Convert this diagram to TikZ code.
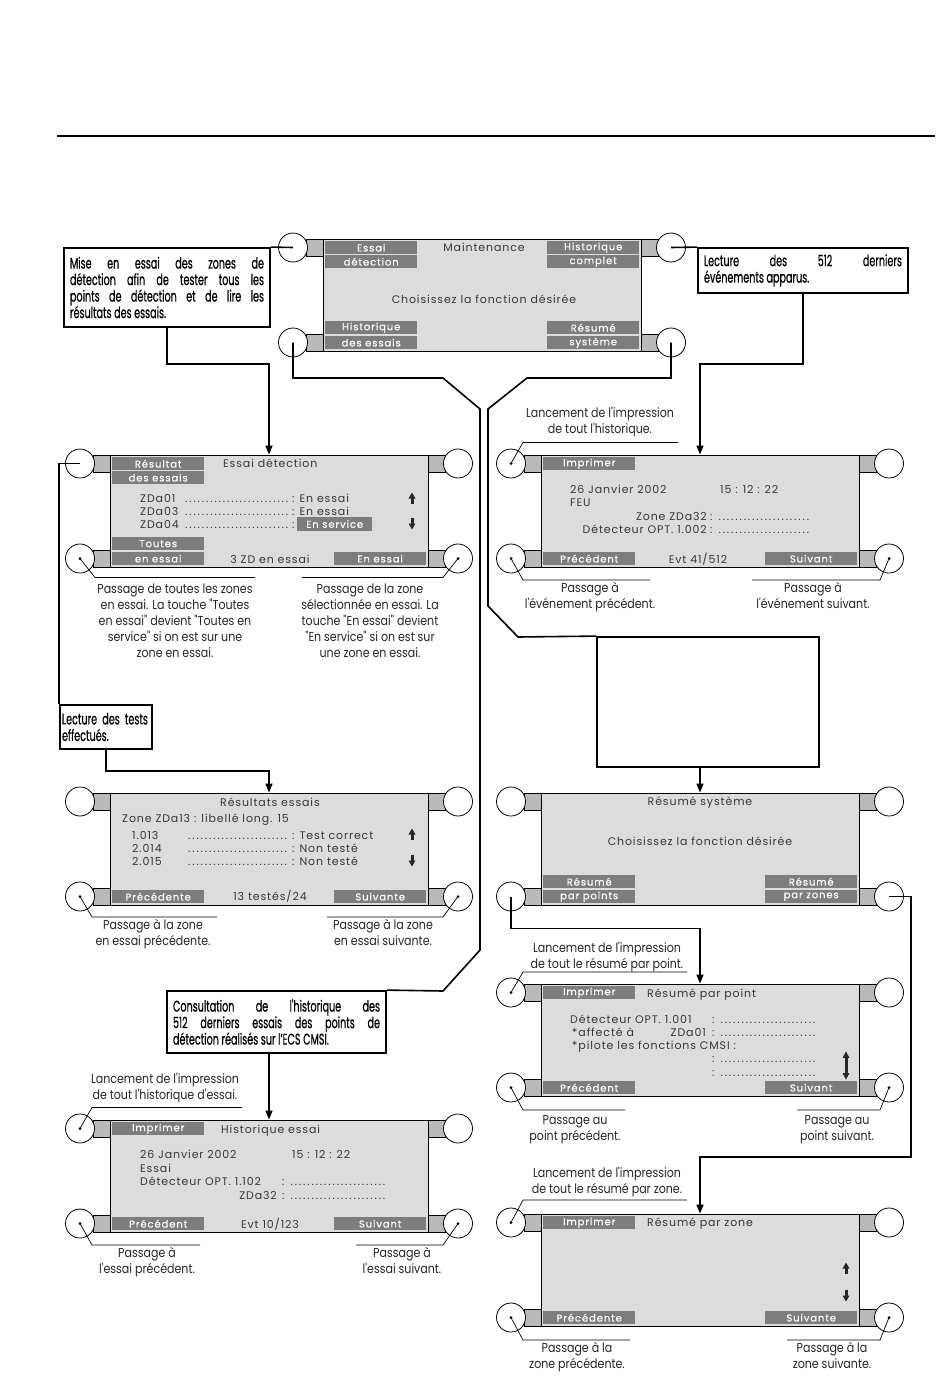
\documentclass[tikz,border=0pt]{standalone}
\usepackage{fontspec}
\usetikzlibrary{arrows.meta}
\setmainfont{Poppins}
\newfontfamily\lcdfont[LetterSpace=8]{Poppins}
\newfontfamily\keyfont[LetterSpace=9,FakeBold=0.4]{Poppins}
\newfontfamily\notefont[FakeStretch=0.85]{Poppins}
\newfontfamily\boxfont[FakeStretch=0.62,FakeBold=0.5]{Poppins}
\definecolor{lcdbg}{RGB}{220,220,220}
\definecolor{tabbg}{RGB}{185,185,185}
\definecolor{keybg}{RGB}{125,125,125}
\definecolor{lcdtxt}{RGB}{55,55,55}
\tikzset{
 lcd/.style={draw=black, line width=0.9pt, fill=lcdbg, minimum width=318pt, minimum height=112pt, inner sep=0pt},
 knob/.style={circle, draw=black, line width=0.8pt, fill=white, minimum size=29pt, inner sep=0pt},
 tabr/.style={draw=black, line width=0.7pt, fill=tabbg},
 keybox/.style={fill=keybg, text=white, minimum width=92pt, minimum height=13pt, inner sep=0pt, anchor=north west, font=\keyfont\fontsize{10}{10}\selectfont},
 lcdtext/.style={text=lcdtxt, inner sep=0pt, font=\lcdfont\fontsize{11}{12}\selectfont},
 note/.style={align=center, inner sep=0pt, anchor=north, text=black!85, font=\notefont\fontsize{13}{15.8}\selectfont},
 callout/.style={draw=black, line width=1.8pt, fill=white, inner sep=0pt, font=\boxfont\fontsize{15.5}{16.5}\selectfont},
 conn/.style={line width=1.6pt, line join=miter},
 arr/.style={conn, -{Triangle[length=9pt,width=7pt]}},
 leader/.style={line width=0.7pt},
 dotmark/.style={circle, fill=black, minimum size=3pt, inner sep=0pt},
 uparr/.pic={\fill[black!85] (-1.5,6) rectangle (1.5,0); \fill[black!85] (-3.5,0.5) -- (3.5,0.5) -- (0,-5.5) -- cycle;},
 downarr/.pic={\fill[black!85] (-1.5,-6) rectangle (1.5,0); \fill[black!85] (-3.5,-0.5) -- (3.5,-0.5) -- (0,5.5) -- cycle;},
}
\newcommand\lcdscreen[3]{%
 \draw[tabr] (#2-17,#3) rectangle (#2,#3+17);
 \draw[tabr] (#2-17,#3+95) rectangle (#2,#3+112);
 \draw[tabr] (#2+318,#3) rectangle (#2+335,#3+17);
 \draw[tabr] (#2+318,#3+95) rectangle (#2+335,#3+112);
 \node[knob] (#1-tl) at (#2-30,#3+8.5) {};
 \node[knob] (#1-bl) at (#2-30,#3+103.5) {};
 \node[knob] (#1-tr) at (#2+348,#3+8.5) {};
 \node[knob] (#1-br) at (#2+348,#3+103.5) {};
 \node[lcd] (#1) at (#2+159,#3+56) {};
}
\newcommand\skey[4]{\node[keybox] (#1) at (#2,#3) {#4};}
\newcommand\lcdL[4]{\node[lcdtext,anchor=base west] (#1) at (#2,#3+4) {#4};}
\newcommand\lcdC[4]{\node[lcdtext,anchor=base] (#1) at (#2,#3+4) {#4};}
\newcommand\lcdR[4]{\node[lcdtext,anchor=base east] (#1) at (#2,#3+4) {#4};}
\newcommand\lcddots[1]{\hbox to #1{\leaders\hbox to 4.2pt{\hss.\hss}\hfill}}
\begin{document}
\begin{tikzpicture}[x=1pt,y=-1pt]
\fill[white] (0,0) rectangle (950,1378);
\useasboundingbox (0,0) rectangle (950,1378);
\coordinate (ruleL) at (57,136);
\coordinate (ruleR) at (935,136);
\draw[line width=1.6pt] (ruleL) -- (ruleR);

% ---------- screens ----------
\lcdscreen{m}{323}{239}
\lcdscreen{ed}{110}{455}
\lcdscreen{hist}{541}{455}
\lcdscreen{res}{110}{793}
\lcdscreen{rs}{541}{793}
\lcdscreen{he}{110}{1120}
\lcdscreen{rp}{541}{984}
\lcdscreen{rz}{541}{1214}

% Maintenance
\skey{m-k1}{325}{241}{Essai}
\skey{m-k2}{325}{255}{détection}
\skey{m-k3}{547}{241}{Historique}
\skey{m-k4}{547}{255}{complet}
\skey{m-k5}{325}{321}{Historique}
\skey{m-k6}{325}{336}{des essais}
\skey{m-k7}{547}{321}{Résumé}
\skey{m-k8}{547}{336}{système}
\lcdC{m-t1}{484}{247}{Maintenance}
\lcdC{m-t2}{484}{299}{Choisissez la fonction désirée}

% Essai detection
\skey{ed-k1}{112}{457}{Résultat}
\skey{ed-k2}{112}{471}{des essais}
\skey{ed-k3}{112}{537}{Toutes}
\skey{ed-k4}{112}{552}{en essai}
\skey{ed-k5}{334}{552}{En essai}
\lcdL{ed-t1}{223}{463}{Essai détection}
\lcdL{ed-r1a}{140}{498}{ZDa01}
\lcdL{ed-r1b}{184}{498}{\lcddots{106pt}}
\lcdL{ed-r1c}{292}{498}{: En essai}
\lcdL{ed-r2a}{140}{511}{ZDa03}
\lcdL{ed-r2b}{184}{511}{\lcddots{106pt}}
\lcdL{ed-r2c}{292}{511}{: En essai}
\lcdL{ed-r3a}{140}{524}{ZDa04}
\lcdL{ed-r3b}{184}{524}{\lcddots{106pt}}
\lcdL{ed-r3c}{292}{524}{:}
\node[keybox, anchor=west, minimum width=75pt, minimum height=14pt] (ed-hl) at (297,524) {En service};
\lcdC{ed-b}{270}{559}{3 ZD en essai}
\pic at (412,498) {uparr};
\pic at (412,524) {downarr};

% Historique complet
\skey{hist-k1}{543}{457}{Imprimer}
\skey{hist-k2}{543}{552}{Précédent}
\skey{hist-k3}{765}{552}{Suivant}
\lcdL{hist-d}{570}{489}{26 Janvier 2002}
\lcdL{hist-h}{720}{489}{15 : 12 : 22}
\lcdL{hist-f}{570}{502}{FEU}
\lcdR{hist-z}{707}{516}{Zone ZDa32}
\lcdL{hist-zd}{710}{516}{: \lcddots{95pt}}
\lcdR{hist-o}{707}{529}{Détecteur OPT. 1.002}
\lcdL{hist-od}{710}{529}{: \lcddots{95pt}}
\lcdC{hist-e}{698}{559}{Evt 41/512}

% Resultats essais
\skey{res-k1}{112}{890}{Précédente}
\skey{res-k2}{334}{890}{Suivante}
\lcdC{res-t}{270}{802}{Résultats essais}
\lcdL{res-z}{122}{818}{Zone ZDa13 : libellé long. 15}
\lcdL{res-r1a}{132}{835}{1.013}
\lcdL{res-r1b}{187}{835}{\lcddots{103pt}}
\lcdL{res-r1c}{292}{835}{: Test correct}
\lcdL{res-r2a}{132}{848}{2.014}
\lcdL{res-r2b}{187}{848}{\lcddots{103pt}}
\lcdL{res-r2c}{292}{848}{: Non testé}
\lcdL{res-r3a}{132}{861}{2.015}
\lcdL{res-r3b}{187}{861}{\lcddots{103pt}}
\lcdL{res-r3c}{292}{861}{: Non testé}
\lcdC{res-b}{270}{896}{13 testés/24}
\pic at (412,834) {uparr};
\pic at (412,861) {downarr};

% Resume systeme
\skey{rs-k1}{543}{875}{Résumé}
\skey{rs-k2}{543}{890}{par points}
\skey{rs-k3}{765}{875}{Résumé}
\skey{rs-k4}{765}{890}{par zones}
\lcdC{rs-t}{700}{801}{Résumé système}
\lcdC{rs-c}{700}{841}{Choisissez la fonction désirée}

% Historique essai
\skey{he-k1}{112}{1122}{Imprimer}
\skey{he-k2}{112}{1217}{Précédent}
\skey{he-k3}{334}{1217}{Suivant}
\lcdL{he-t}{221}{1129}{Historique essai}
\lcdL{he-d}{140}{1154}{26 Janvier 2002}
\lcdL{he-h}{292}{1154}{15 : 12 : 22}
\lcdL{he-e}{140}{1168}{Essai}
\lcdL{he-o}{140}{1181}{Détecteur OPT. 1.102}
\lcdL{he-od}{282}{1181}{: \lcddots{100pt}}
\lcdR{he-z}{277}{1195}{ZDa32}
\lcdL{he-zd}{282}{1195}{: \lcddots{100pt}}
\lcdC{he-b}{270}{1224}{Evt 10/123}

% Resume par point
\skey{rp-k1}{543}{986}{Imprimer}
\skey{rp-k2}{543}{1081}{Précédent}
\skey{rp-k3}{765}{1081}{Suivant}
\lcdL{rp-t}{647}{993}{Résumé par point}
\lcdL{rp-o}{570}{1019}{Détecteur OPT. 1.001}
\lcdL{rp-od}{712}{1019}{: \lcddots{100pt}}
\lcdL{rp-a}{572}{1032}{*affecté à}
\lcdR{rp-z}{706}{1032}{ZDa01}
\lcdL{rp-zd}{712}{1032}{: \lcddots{100pt}}
\lcdL{rp-p}{572}{1045}{*pilote les fonctions CMSI :}
\lcdL{rp-d1}{712}{1058}{: \lcddots{100pt}}
\lcdL{rp-d2}{712}{1072}{: \lcddots{100pt}}
\fill[black!85] (844.5,1057) rectangle (847.5,1074);
\fill[black!85] (842.5,1058) -- (849.5,1058) -- (846,1051.5) -- cycle;
\fill[black!85] (842.5,1073) -- (849.5,1073) -- (846,1079.5) -- cycle;

% Resume par zone
\skey{rz-k1}{543}{1216}{Imprimer}
\skey{rz-k2}{543}{1311}{Précédente}
\skey{rz-k3}{765}{1311}{Suivante}
\lcdL{rz-t}{647}{1222}{Résumé par zone}
\pic at (846,1268) {uparr};
\pic at (846,1296) {downarr};

% ---------- callouts ----------
\node[callout, text width=194pt, align=justify, minimum width=206pt, minimum height=79pt] (c1) at (167,287.5)
 {\hyphenpenalty=10000 Mise en essai des zones de\linebreak détection afin de tester tous les\linebreak points de détection et de lire les\linebreak résultats des essais.};
\node[callout, text width=198pt, align=justify, minimum width=210pt, minimum height=45pt] (c2) at (803,270.5)
 {\hyphenpenalty=10000 Lecture des 512 derniers\linebreak événements apparus.};
\node[callout, text width=88pt, align=left, minimum width=92pt, minimum height=44pt] (c3) at (106,727)
 {Lecture des tests\\effectués.};
\node[callout, text width=207pt, align=justify, minimum width=219pt, minimum height=62pt] (c4) at (276.5,1022)
 {\hyphenpenalty=10000 Consultation de l'historique des\linebreak 512 derniers essais des points de\linebreak détection réalisés sur l’ECS CMSI.};
\node[draw=black, line width=1.8pt, fill=white, minimum width=222pt, minimum height=130pt] (eb) at (708,702) {};

% ---------- connectors ----------
\draw[conn] (m-tl.center) -- (c1.north east);
\draw[arr] (c1.south) -- ++(0,36) -| (ed.north);
\draw[conn] (m-tr.center) -- (c2.north west);
\draw[arr] (c2.south) -- ++(0,70) -| (hist.north);
\draw[conn] (m-bl.center) |- (443,378) -- (480,409) -- (480,950) -- (443,991) -- (c4.north east);
\draw[conn] (m-br.center) |- (527,378) -- (488,409) -- (488,606) -- (518,637) -- (eb.north west);
\draw[conn] (ed-tl.center) -| (c3.north west);
\draw[arr] (c3.south) -- ++(0,21) -| (res.north);
\draw[arr] (c4.south -| he.north) -- (he.north);
\draw[arr] (eb.south -| rs.north) -- (rs.north);
\draw[arr] (rs-bl.center) -- ++(0,32) -| (rp.north);
\coordinate (zturn) at (911,1157);
\draw[arr] (rs-br.center) -| (zturn) -| (rz.north);

% ---------- leaders and notes ----------
\foreach \k in {ed-bl,ed-br,hist-tl,hist-bl,hist-br,res-bl,res-br,he-tl,he-bl,he-br,rp-tl,rp-bl,rp-br,rz-tl,rz-bl,rz-br}
 {\node[dotmark] (\k-dot) at (\k.center) {};}
\draw[leader] (ed-bl.center) -- ++(15,19) -- ++(160,0);
\draw[leader] (ed-br.center) -- ++(-15,19) -- ++(-141,0);
\draw[leader] (hist-tl.center) -- ++(12,-21) -- ++(155,0);
\draw[leader] (hist-bl.center) -- ++(12,21.5) -- ++(127,0);
\draw[leader] (hist-br.center) -- ++(-9,21.5) -- ++(-128,0);
\draw[leader] (res-bl.center) -- ++(12,20.5) -- ++(125,0);
\draw[leader] (res-br.center) -- ++(-15,20.5) -- ++(-116,0);
\draw[leader] (he-tl.center) -- ++(12,-21) -- ++(150,0);
\draw[leader] (he-bl.center) -- ++(12,21.5) -- ++(108,0);
\draw[leader] (he-br.center) -- ++(-15,21.5) -- ++(-87,0);
\draw[leader] (rp-tl.center) -- ++(12,-20.5) -- ++(164,0);
\draw[leader] (rp-bl.center) -- ++(12,22.5) -- ++(102,0);
\draw[leader] (rp-br.center) -- ++(-9,22.5) -- ++(-83,0);
\draw[leader] (rz-tl.center) -- ++(12,-22.5) -- ++(164,0);
\draw[leader] (rz-bl.center) -- ++(12,22.5) -- ++(107,0);
\draw[leader] (rz-br.center) -- ++(-9,22.5) -- ++(-93,0);

\node[note] (n1) at (175,584) {Passage de toutes les zones\\en essai. La touche "Toutes\\en essai" devient "Toutes en\\service" si on est sur une\\zone en essai.};
\node[note] (n2) at (370,584) {Passage de la zone\\sélectionnée en essai. La\\touche "En essai" devient\\"En service" si on est sur\\une zone en essai.};
\node[note] (n3) at (600,407) {Lancement de l'impression\\de tout l'historique.};
\node[note] (n4) at (590,582) {Passage à\\l'événement précédent.};
\node[note] (n5) at (813,582) {Passage à\\l'événement suivant.};
\node[note] (n6) at (153,919) {Passage à la zone\\en essai précédente.};
\node[note] (n7) at (383,919) {Passage à la zone\\en essai suivante.};
\node[note] (n8) at (165,1073) {Lancement de l'impression\\de tout l'historique d'essai.};
\node[note] (n9) at (147,1247) {Passage à\\l'essai précédent.};
\node[note] (n10) at (402,1247) {Passage à\\l'essai suivant.};
\node[note] (n11) at (607,942) {Lancement de l'impression\\de tout le résumé par point.};
\node[note] (n12) at (575,1115) {Passage au\\point précédent.};
\node[note] (n13) at (837,1115) {Passage au\\point suivant.};
\node[note] (n14) at (607,1167) {Lancement de l'impression\\de tout le résumé par zone.};
\node[note] (n15) at (577,1342) {Passage à la\\zone précédente.};
\node[note] (n16) at (832,1342) {Passage à la\\zone suivante.};
\end{tikzpicture}
\end{document}
